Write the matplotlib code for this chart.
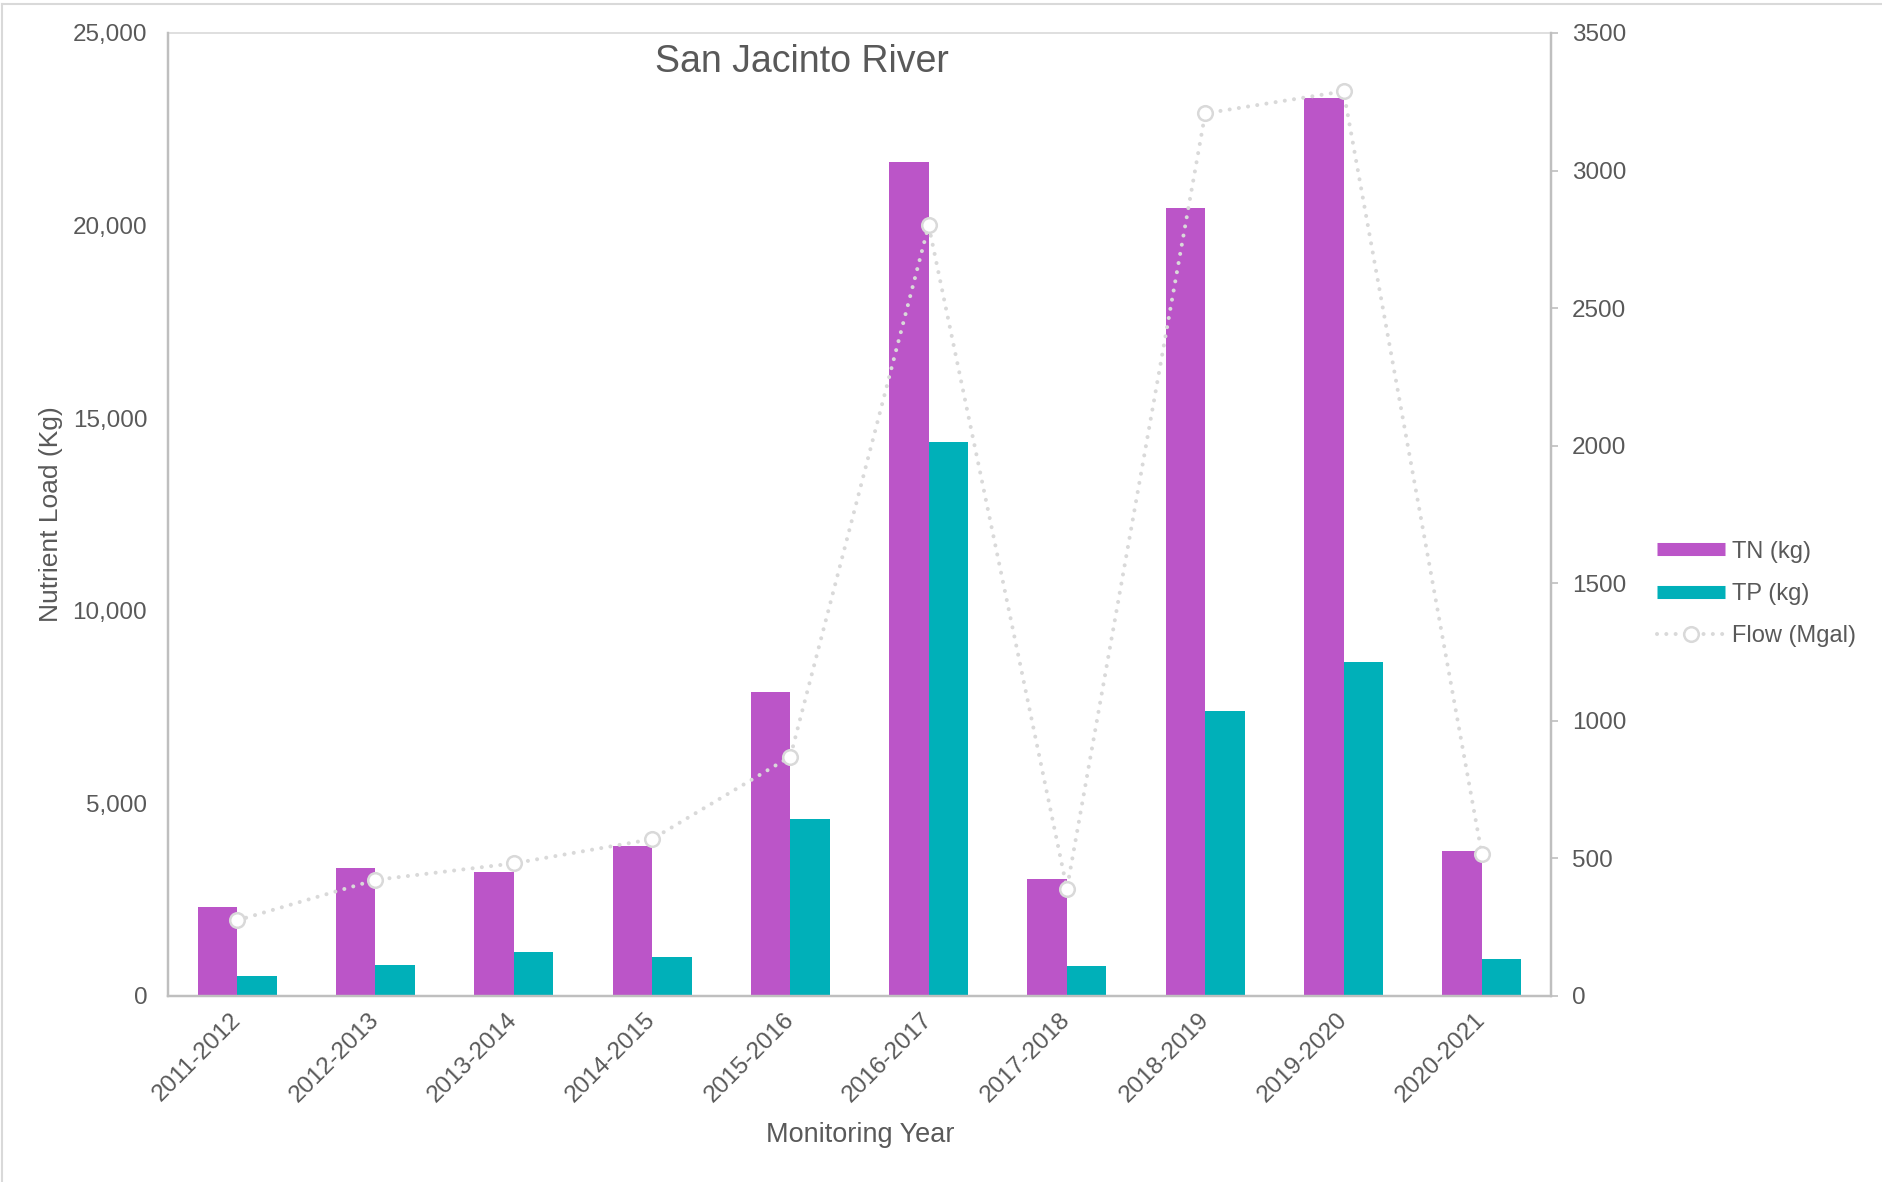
import matplotlib
matplotlib.use("Agg")
import matplotlib.pyplot as plt
from matplotlib.lines import Line2D
from matplotlib.ticker import FuncFormatter, MultipleLocator
import numpy as np

plt.rcParams['font.family'] = ['Liberation Sans', 'DejaVu Sans']

# Monitoring years and annual loads
years = ["2011-2012", "2012-2013", "2013-2014", "2014-2015", "2015-2016",
         "2016-2017", "2017-2018", "2018-2019", "2019-2020", "2020-2021"]
tn_kg = [2320, 3315, 3220, 3900, 7900, 21650, 3030, 20450, 23320, 3770]
tp_kg = [510, 800, 1145, 1015, 4600, 14390, 780, 7400, 8680, 965]
flow_mgal = [275, 422, 482, 570, 870, 2801, 390, 3208, 3288, 516]

TN_COLOR = "#BB55C8"
TP_COLOR = "#00B0B9"
FLOW_COLOR = "#D9D9D9"
TEXT = "#595959"
SPINE = "#BFBFBF"

W, H = 1883, 1182
fig = plt.figure(figsize=(W / 100, H / 100), dpi=100)

left, right, top, bottom = 168, 1551, 33, 996
ax = fig.add_axes([left / W, 1 - bottom / H, (right - left) / W, (bottom - top) / H])

x = np.arange(len(years))
bw = 0.2857
ax.bar(x - bw / 2, tn_kg, width=bw, color=TN_COLOR, zorder=2)
ax.bar(x + bw / 2, tp_kg, width=bw, color=TP_COLOR, zorder=2)

ax.set_xlim(-0.5, len(years) - 0.5)
ax.set_ylim(0, 25000)
ax.yaxis.set_major_locator(MultipleLocator(5000))
ax.yaxis.set_major_formatter(FuncFormatter(lambda v, p: f"{int(v):,}"))
ax.set_xticks(x)
ax.set_xticklabels(years, rotation=45, ha="right", va="center",
                   rotation_mode="anchor", fontsize=17.5, color=TEXT)
ax.tick_params(axis="x", length=0, pad=15)
ax.tick_params(axis="y", length=0, pad=15, labelsize=17.5, labelcolor=TEXT)

for side in ("left", "bottom", "right"):
    ax.spines[side].set_color(SPINE)
    ax.spines[side].set_linewidth(1.6)
ax.spines["top"].set_color("#D9D9D9")
ax.spines["top"].set_linewidth(1.2)

ax.set_ylabel("Nutrient Load (Kg)", fontsize=19, color=TEXT)
ax.yaxis.set_label_coords(-(left - 63) / (right - left), 0.5)
ax.set_xlabel("Monitoring Year", fontsize=19.5, color=TEXT, va="center")
ax.xaxis.set_label_coords((860 - left) / (right - left), -(1135 - bottom) / (bottom - top))

# Flow on the secondary axis
ax2 = ax.twinx()
ax2.plot(x, flow_mgal, color=FLOW_COLOR, lw=2.9, linestyle=(0, (0.01, 2.3)),
         dash_capstyle="round", marker="o", markersize=10.5,
         markerfacecolor="white", markeredgecolor=FLOW_COLOR,
         markeredgewidth=1.8, zorder=3)
ax2.set_ylim(0, 3500)
ax2.yaxis.set_major_locator(MultipleLocator(500))
ax2.tick_params(axis="y", length=5, width=1.2, color=SPINE, pad=10,
                labelsize=17.5, labelcolor=TEXT, direction="out")
for side in ("left", "bottom", "right"):
    ax2.spines[side].set_color(SPINE)
    ax2.spines[side].set_linewidth(1.6)
ax2.spines["top"].set_visible(False)

fig.text(802 / W, 1 - 62 / H, "San Jacinto River", fontsize=27, color=TEXT,
         ha="center", va="center")

handles = [
    Line2D([], [], color=TN_COLOR, lw=9.4, solid_capstyle="butt"),
    Line2D([], [], color=TP_COLOR, lw=9.4, solid_capstyle="butt"),
    Line2D([], [], color=FLOW_COLOR, lw=2.9, linestyle=(0, (0.01, 2.3)),
           dash_capstyle="round", marker="o", markersize=10.5,
           markerfacecolor="white", markeredgecolor=FLOW_COLOR,
           markeredgewidth=1.8),
]
fig.legend(handles, ["TN (kg)", "TP (kg)", "Flow (Mgal)"],
           loc="center left", bbox_to_anchor=(1657 / W, 1 - 594 / H),
           frameon=False, fontsize=17, labelcolor=TEXT, handlelength=2.88,
           handletextpad=0.3, labelspacing=0.86, borderpad=0,
           borderaxespad=0, numpoints=1)

# Outer chart frame
fig.add_artist(Line2D([2 / W, 1], [1 - 4 / H, 1 - 4 / H], transform=fig.transFigure,
                      color="#D9D9D9", lw=1.5))
fig.add_artist(Line2D([2 / W, 2 / W], [0, 1 - 4 / H], transform=fig.transFigure,
                      color="#D9D9D9", lw=1.5))

fig.savefig("out.png", dpi=100, facecolor="white")
